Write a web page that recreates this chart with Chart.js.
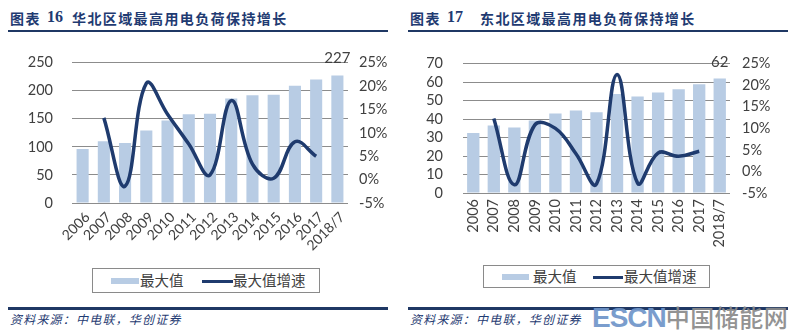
<!DOCTYPE html>
<html lang="zh">
<head>
<meta charset="UTF-8">
<title>华北、东北区域最高用电负荷</title>
<style>
    body {
        margin: 0;
        width: 800px;
        height: 334px;
        overflow: hidden;
        background: #fff;
        font-family: "Noto Sans CJK SC", sans-serif;
    }
    .panel {
        position: absolute;
        top: 0;
        width: 400px;
        height: 334px;
    }
    .title span {
        position: absolute;
        top: 9px;
        font-size: 14px;
        font-weight: 700;
        color: #1f3b72;
        letter-spacing: 1.4px;
        white-space: nowrap;
        line-height: 18px;
    }
    .title .num {
        font-family: "Liberation Serif", serif;
        font-size: 16px;
        letter-spacing: 0;
    }
    .rule {
        position: absolute;
        left: 8px;
        width: 380px;
        height: 2.5px;
        background: #1f3864;
    }
    canvas {
        position: absolute;
        left: 0;
        top: 35px;
    }
    .legend {
        position: absolute;
        border: 1px solid #8a8a8a;
        box-sizing: border-box;
    }
    .legend .sw, .legend .txt {
        position: absolute;
    }
    .legend .bar { background: #b8cce4; height: 6px; }
    .legend .line { background: #1f3b6e; height: 3px; }
    .legend .txt {
        font-size: 14.5px;
        color: #404040;
        line-height: 20px;
        white-space: nowrap;
    }
    .source {
        position: absolute;
        left: 10px;
        top: 311px;
        font-size: 12px;
        font-style: italic;
        color: #1f3b72;
        letter-spacing: 1.2px;
        line-height: 16px;
        white-space: nowrap;
    }
    .mark {
        position: absolute;
        left: 592px;
        top: 302px;
        white-space: nowrap;
        line-height: 30px;
        opacity: 0.92;
    }
    .mark .en {
        font-family: "Liberation Sans", sans-serif;
        font-weight: 700;
        font-size: 28px;
        color: #6f95c9;
        letter-spacing: -1px;
    }
    .mark .cn {
        font-size: 24px;
        font-weight: 500;
        color: #8a8a8a;
        letter-spacing: 0.5px;
    }
</style>
</head>
<body>

<div class="panel" style="left:0">
    <div class="title">
        <span style="left:10px">图表</span>
        <span class="num" style="left:47px;top:8px">16</span>
        <span style="left:72px">华北区域最高用电负荷保持增长</span>
    </div>
    <div class="rule" style="top:29.5px"></div>
    <canvas id="northChart" width="400" height="230"></canvas>
    <div class="legend" style="left:92px;top:268px;width:228px;height:25px">
        <div class="sw bar" style="left:18px;top:9px;width:28px"></div>
        <div class="txt" style="left:47px;top:1px">最大值</div>
        <div class="sw line" style="left:109px;top:11px;width:31px"></div>
        <div class="txt" style="left:140px;top:1px">最大值增速</div>
    </div>
    <div class="rule" style="top:307px"></div>
    <div class="source">资料来源：中电联，华创证券</div>
</div>

<div class="panel" style="left:400px">
    <div class="title">
        <span style="left:10px">图表</span>
        <span class="num" style="left:47px;top:8px">17</span>
        <span style="left:80px">东北区域最高用电负荷保持增长</span>
    </div>
    <div class="rule" style="top:29.5px"></div>
    <canvas id="northeastChart" width="400" height="230"></canvas>
    <div class="legend" style="left:83px;top:265px;width:227px;height:22.5px">
        <div class="sw bar" style="left:18px;top:8px;width:27px"></div>
        <div class="txt" style="left:49px;top:0px">最大值</div>
        <div class="sw line" style="left:109px;top:10px;width:30px"></div>
        <div class="txt" style="left:140px;top:0px">最大值增速</div>
    </div>
    <div class="rule" style="top:307px"></div>
    <div class="source">资料来源：中电联，华创证券</div>
</div>

<div class="mark"><span class="en">ESCN</span><span class="cn">中国储能网</span></div>

<script src="https://cdn.jsdelivr.net/npm/chart.js"></script>
<script>
    // categories
    const years = ['2006', '2007', '2008', '2009', '2010', '2011', '2012',
                   '2013', '2014', '2015', '2016', '2017', '2018/7'];

    // 华北: max load (bars) and growth % (line)
    const northMax = [96, 110, 107, 129, 147, 158, 159, 186, 192, 193, 209, 220, 227];
    const northGrowth = [null, 13.2, -1.4, 20.6, 14.0, 7.6, 1.0, 16.9, 3.3, 0.3, 8.1, 5.0, null];

    // 东北
    const northeastMax = [32.5, 36.5, 35.4, 39.2, 43.0, 44.6, 43.7, 53.6, 52.3, 54.4, 56.2, 58.9, 62];
    const northeastGrowth = [null, 12.3, -3.1, 10.8, 10.0, 4.1, -2.9, 22.5, -2.7, 4.3, 3.5, 4.7, null];

    // tick labels
    const northLoadTicks = [0, 50, 100, 150, 200, 250];
    const northeastLoadTicks = [0, 10, 20, 30, 40, 50, 60, 70];
    const growthTicks = [-5, 0, 5, 10, 15, 20, 25];

    const BAR = '#b8cce4';
    const LINE = '#1f3b6e';
    const TEXT = '#404040';
    const FONT = 'Lato, "Liberation Sans", sans-serif';

    // writes the value of the last bar above it
    const lastBarLabel = {
        id: 'lastBarLabel',
        afterDatasetsDraw(chart, args, opts) {
            const ds = chart.data.datasets[1];
            const meta = chart.getDatasetMeta(1);
            const i = ds.data.length - 1;
            const el = meta.data[i];
            const ctx = chart.ctx;
            ctx.save();
            ctx.font = '15px ' + FONT;
            ctx.fillStyle = TEXT;
            ctx.textAlign = 'center';
            ctx.textBaseline = 'bottom';
            ctx.fillText(String(ds.data[i]), el.x, el.y - opts.gap);
            ctx.restore();
        }
    };

    function fixedTicks(list) {
        return axis => { axis.ticks = list.map(v => ({ value: v })); };
    }

    function makeChart(id, s) {
        return new Chart(document.getElementById(id), {
            type: 'bar',
            data: {
                labels: years,
                datasets: [{
                    type: 'line',
                    label: '最大值增速',
                    data: s.growth,
                    yAxisID: 'y1',
                    borderColor: LINE,
                    borderWidth: 3.5,
                    pointRadius: 0,
                    tension: 0.4,
                    fill: false,
                    order: 0
                }, {
                    label: '最大值',
                    data: s.max,
                    yAxisID: 'y',
                    backgroundColor: BAR,
                    categoryPercentage: 1,
                    barPercentage: s.barPct,
                    order: 1
                }]
            },
            options: {
                responsive: false,
                animation: false,
                devicePixelRatio: 1,
                layout: { padding: { top: s.top, left: 0, right: 0, bottom: 0 } },
                plugins: {
                    legend: { display: false },
                    tooltip: { enabled: false },
                    lastBarLabel: { gap: s.gap }
                },
                scales: {
                    x: {
                        grid: { display: false, drawTicks: false },
                        border: { display: false },
                        ticks: {
                            color: TEXT,
                            font: { family: FONT, size: s.xFont },
                            minRotation: s.rot,
                            maxRotation: s.rot,
                            autoSkip: false,
                            padding: s.xPad,
                            labelOffset: s.xShift
                        },
                        afterFit: a => { a.height = s.xHeight; }
                    },
                    y: {
                        position: 'left',
                        min: s.loadTicks[0],
                        max: s.loadTicks[s.loadTicks.length - 1],
                        afterBuildTicks: fixedTicks(s.loadTicks),
                        grid: { color: '#8c8c8c', lineWidth: 1, drawTicks: false },
                        border: { display: false },
                        ticks: { color: TEXT, font: { family: FONT, size: 14.5 }, padding: s.yPad, autoSkip: false },
                        afterFit: a => { a.width = s.yWidth; }
                    },
                    y1: {
                        position: 'right',
                        min: growthTicks[0],
                        max: growthTicks[growthTicks.length - 1],
                        afterBuildTicks: fixedTicks(growthTicks),
                        grid: { display: false, drawTicks: false },
                        border: { display: false },
                        ticks: {
                            color: TEXT,
                            font: { family: FONT, size: 14.5 },
                            padding: s.y1Pad,
                            autoSkip: false,
                            callback: v => v + '%'
                        },
                        afterFit: a => { a.width = s.y1Width; }
                    }
                }
            },
            plugins: [lastBarLabel]
        });
    }

    makeChart('northChart', {
        max: northMax, growth: northGrowth, loadTicks: northLoadTicks,
        barPct: 0.57, top: 18, rot: 45, xPad: 6, xShift: 5, xFont: 14, xHeight: 62,
        yWidth: 72, yPad: 19, y1Width: 52, y1Pad: 11, gap: 10
    });

    makeChart('northeastChart', {
        max: northeastMax, growth: northeastGrowth, loadTicks: northeastLoadTicks,
        barPct: 0.6, top: 23, rot: 90, xPad: 6, xShift: 0, xFont: 14.5, xHeight: 72,
        yWidth: 63, yPad: 20, y1Width: 70, y1Pad: 12, gap: 9
    });
</script>
</body>
</html>
